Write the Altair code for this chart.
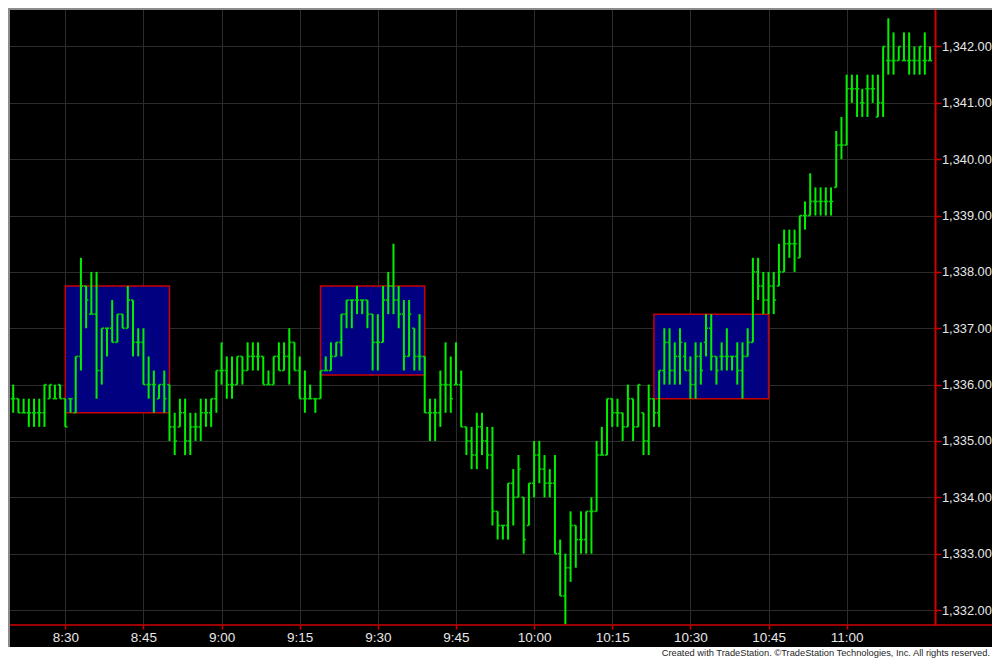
import altair as alt
import pandas as pd

# ---------------- data (1-minute bars, 8:18 .. 11:16) ----------------
first_minute = 8 * 60 + 18  # 8:18
highs = [
    1335.75, 1336.00, 1336.00, 1335.75, 1335.75, 1335.75, 1335.75, 1335.75, 1336.00, 1336.00, 1336.00, 1336.00,
    1335.75, 1335.75, 1336.50, 1338.25, 1337.75, 1338.00, 1338.00, 1337.00, 1337.00, 1337.50, 1337.25, 1337.25,
    1337.75, 1337.50, 1337.00, 1337.00, 1336.50, 1336.25, 1336.00, 1336.25, 1336.00, 1335.50, 1335.75, 1335.75,
    1335.50, 1335.50, 1335.75, 1335.75, 1335.75, 1336.25, 1336.75, 1336.50, 1336.50, 1336.50, 1336.50, 1336.75,
    1336.75, 1336.75, 1336.50, 1336.25, 1336.50, 1336.75, 1336.75, 1337.00, 1336.75, 1336.50, 1336.25, 1336.00,
    1335.75, 1336.25, 1336.50, 1336.75, 1336.75, 1337.25, 1337.50, 1337.50, 1337.75, 1337.50, 1337.50, 1337.25,
    1337.25, 1337.75, 1338.00, 1338.50, 1337.75, 1337.50, 1337.50, 1337.00, 1337.25, 1336.50, 1335.75, 1335.75,
    1336.25, 1336.75, 1336.50, 1336.75, 1336.25, 1335.25, 1335.25, 1335.50, 1335.50, 1335.25, 1335.25, 1333.75,
    1333.50, 1334.25, 1334.50, 1334.75, 1334.00, 1334.25, 1335.00, 1335.00, 1334.75, 1334.50, 1334.75, 1333.25,
    1333.00, 1333.75, 1333.50, 1333.75, 1333.75, 1334.00, 1335.00, 1335.25, 1335.75, 1335.75, 1335.75, 1335.50,
    1336.00, 1335.75, 1336.00, 1335.50, 1336.00, 1335.75, 1336.25, 1337.00, 1337.00, 1336.75, 1337.00, 1336.75,
    1336.50, 1336.75, 1336.75, 1337.25, 1337.25, 1336.50, 1336.75, 1337.00, 1336.50, 1336.75, 1336.75, 1337.00,
    1338.25, 1338.25, 1338.00, 1338.00, 1338.00, 1338.50, 1338.75, 1338.75, 1338.75, 1339.00, 1339.25, 1339.75,
    1339.50, 1339.50, 1339.50, 1339.50, 1340.50, 1340.75, 1341.50, 1341.50, 1341.50, 1341.25, 1341.50, 1341.50,
    1341.50, 1342.00, 1342.50, 1342.25, 1342.00, 1342.25, 1342.25, 1342.00, 1342.00, 1342.25, 1342.00,
]
lows = [
    1335.25, 1335.50, 1335.50, 1335.50, 1335.50, 1335.25, 1335.25, 1335.25, 1335.25, 1335.75, 1335.75, 1335.75,
    1335.25, 1335.50, 1335.50, 1336.25, 1337.00, 1337.25, 1335.75, 1336.00, 1336.50, 1336.75, 1336.75, 1337.00,
    1337.00, 1336.50, 1336.50, 1336.00, 1335.75, 1335.50, 1335.75, 1335.50, 1335.00, 1334.75, 1335.25, 1334.75,
    1334.75, 1335.00, 1335.00, 1335.25, 1335.25, 1335.50, 1336.00, 1335.75, 1335.75, 1336.00, 1336.00, 1336.25,
    1336.25, 1336.25, 1336.00, 1336.00, 1336.00, 1336.25, 1336.25, 1336.00, 1336.25, 1335.75, 1335.50, 1335.75,
    1335.50, 1335.75, 1336.25, 1336.25, 1336.50, 1336.50, 1337.00, 1337.00, 1337.25, 1337.25, 1337.00, 1336.25,
    1336.25, 1336.75, 1337.25, 1337.25, 1337.00, 1336.25, 1336.50, 1336.25, 1336.25, 1335.50, 1335.00, 1335.00,
    1335.25, 1335.50, 1335.50, 1336.00, 1335.25, 1334.75, 1334.50, 1334.50, 1334.75, 1334.50, 1333.50, 1333.25,
    1333.25, 1333.25, 1333.50, 1334.00, 1333.00, 1333.50, 1334.00, 1334.25, 1334.00, 1334.00, 1333.00, 1332.25,
    1331.75, 1332.50, 1332.75, 1333.00, 1333.00, 1333.00, 1333.75, 1334.75, 1334.75, 1335.25, 1335.25, 1335.00,
    1335.25, 1335.00, 1335.25, 1334.75, 1334.75, 1335.25, 1335.25, 1336.00, 1336.00, 1336.00, 1336.00, 1336.25,
    1335.75, 1335.75, 1336.00, 1336.50, 1336.25, 1336.00, 1336.25, 1336.25, 1336.25, 1336.00, 1335.75, 1336.50,
    1336.75, 1337.50, 1337.25, 1337.25, 1337.25, 1337.75, 1338.00, 1338.25, 1338.00, 1338.25, 1338.75, 1339.00,
    1339.00, 1339.00, 1339.00, 1339.00, 1339.50, 1340.00, 1340.25, 1341.00, 1340.75, 1340.75, 1340.75, 1341.00,
    1340.75, 1340.75, 1341.50, 1341.50, 1341.75, 1341.75, 1341.50, 1341.50, 1341.50, 1341.50, 1341.75,
]
opens = [
    1335.50, 1335.75, 1335.75, 1335.75, 1335.50, 1335.50, 1335.50, 1335.50, 1335.50, 1335.75, 1335.75, 1336.00,
    1335.75, 1335.75, 1335.50, 1336.50, 1337.75, 1337.25, 1337.25, 1336.25, 1337.00, 1337.00, 1336.75, 1337.25,
    1337.00, 1337.50, 1336.75, 1336.75, 1336.00, 1336.00, 1335.75, 1336.00, 1336.00, 1335.25, 1335.25, 1335.50,
    1335.00, 1335.25, 1335.25, 1335.50, 1335.50, 1335.75, 1336.25, 1336.25, 1336.00, 1336.00, 1336.50, 1336.25,
    1336.50, 1336.50, 1336.50, 1336.00, 1336.00, 1336.50, 1336.25, 1336.50, 1336.75, 1336.25, 1335.75, 1335.75,
    1335.75, 1335.75, 1336.25, 1336.25, 1336.50, 1336.75, 1337.25, 1337.50, 1337.50, 1337.50, 1337.50, 1337.25,
    1336.75, 1336.75, 1337.50, 1337.75, 1337.50, 1337.25, 1336.50, 1337.00, 1336.50, 1336.50, 1335.50, 1335.50,
    1335.50, 1336.00, 1336.00, 1336.00, 1336.00, 1335.25, 1335.00, 1334.75, 1335.25, 1335.00, 1334.75, 1333.75,
    1333.50, 1333.50, 1334.25, 1334.00, 1334.00, 1333.50, 1334.25, 1334.75, 1334.50, 1334.25, 1334.25, 1333.00,
    1332.25, 1332.75, 1333.50, 1333.25, 1333.25, 1333.75, 1333.75, 1334.75, 1334.75, 1335.75, 1335.50, 1335.50,
    1335.25, 1335.75, 1335.25, 1335.50, 1335.00, 1335.75, 1335.50, 1336.25, 1336.75, 1336.25, 1336.50, 1336.50,
    1336.25, 1336.00, 1336.50, 1336.75, 1337.00, 1336.50, 1336.50, 1336.50, 1336.50, 1336.50, 1336.25, 1336.50,
    1336.75, 1338.00, 1337.75, 1337.50, 1337.75, 1337.75, 1338.00, 1338.50, 1338.50, 1338.25, 1339.00, 1339.00,
    1339.25, 1339.25, 1339.25, 1339.25, 1339.50, 1340.25, 1340.25, 1341.25, 1341.25, 1341.00, 1341.25, 1341.25,
    1340.75, 1341.00, 1341.75, 1341.75, 1341.75, 1341.75, 1341.75, 1341.75, 1341.75, 1341.75, 1341.75,
]
closes = [
    1335.75, 1335.75, 1335.75, 1335.50, 1335.50, 1335.50, 1335.50, 1335.50, 1336.00, 1336.00, 1335.75, 1335.75,
    1335.25, 1335.75, 1336.50, 1337.75, 1337.50, 1337.25, 1336.25, 1337.00, 1337.00, 1336.75, 1337.25, 1337.00,
    1337.50, 1336.75, 1336.75, 1336.00, 1336.00, 1336.00, 1336.00, 1335.75, 1335.25, 1335.00, 1335.50, 1335.00,
    1335.25, 1335.25, 1335.50, 1335.50, 1335.75, 1336.25, 1336.25, 1336.00, 1336.00, 1336.50, 1336.25, 1336.50,
    1336.50, 1336.50, 1336.00, 1336.00, 1336.50, 1336.25, 1336.50, 1336.75, 1336.25, 1335.75, 1335.75, 1335.75,
    1335.75, 1336.25, 1336.25, 1336.50, 1336.75, 1337.25, 1337.50, 1337.50, 1337.50, 1337.50, 1337.25, 1336.75,
    1336.75, 1337.50, 1337.75, 1337.50, 1337.25, 1336.50, 1337.25, 1336.50, 1336.50, 1335.50, 1335.50, 1335.50,
    1336.00, 1336.00, 1335.75, 1336.00, 1335.25, 1335.00, 1334.75, 1335.25, 1335.00, 1334.75, 1333.75, 1333.50,
    1333.50, 1334.25, 1334.00, 1334.50, 1333.25, 1334.25, 1334.75, 1334.50, 1334.25, 1334.25, 1333.00, 1332.25,
    1332.75, 1333.50, 1333.25, 1333.25, 1333.75, 1333.75, 1334.75, 1334.75, 1335.75, 1335.50, 1335.50, 1335.25,
    1335.75, 1335.25, 1336.00, 1335.00, 1335.75, 1335.50, 1336.25, 1336.75, 1336.25, 1336.50, 1336.75, 1336.25,
    1336.00, 1336.50, 1336.25, 1337.00, 1336.50, 1336.25, 1336.50, 1336.50, 1336.50, 1336.25, 1336.50, 1336.75,
    1338.00, 1337.75, 1337.50, 1337.75, 1337.50, 1338.00, 1338.50, 1338.50, 1338.50, 1339.00, 1339.00, 1339.25,
    1339.25, 1339.25, 1339.25, 1339.25, 1340.25, 1340.25, 1341.25, 1341.25, 1341.25, 1341.00, 1341.25, 1341.25,
    1341.00, 1342.00, 1341.75, 1341.75, 1342.00, 1341.75, 1341.75, 1341.75, 1342.00, 1341.75, 1341.75,
]
minutes = list(range(first_minute, first_minute + len(highs)))

# highlighted ranges (minutes since midnight / prices)
box_start = [510, 559, 623]      # 8:30, 9:19, 10:23
box_end = [530, 579, 645]        # 8:50, 9:39, 10:45
box_top = [1337.75, 1337.75, 1337.25]
box_bottom = [1335.50, 1336.17, 1335.75]

price_ticks = [1332, 1333, 1334, 1335, 1336, 1337, 1338, 1339, 1340, 1341, 1342]
time_ticks = [510, 525, 540, 555, 570, 585, 600, 615, 630, 645, 660]
credit = "Created with TradeStation. \u00a9TradeStation Technologies, Inc. All rights reserved."

# ---------------- styling ----------------
GREEN = "#00f000"
TICK_GREEN = "#00d800"
RED = "#d00000"
GRID = "#2c2c2c"
LBL = "#e6e6e6"
FONT = "Liberation Sans"
W, H = 927, 617
TOTAL_W = 984

bars = pd.DataFrame({"t": minutes, "o": opens, "h": highs, "l": lows, "c": closes})
boxes = pd.DataFrame({"x0": box_start, "x1": box_end, "y0": box_bottom, "y1": box_top})
one = pd.DataFrame({"label": [credit]})

xs = alt.Scale(domain=[499.0, 676.96], nice=False, zero=False)
ys = alt.Scale(domain=[1331.734, 1342.683], nice=False, zero=False)

label_expr = ("floor(datum.value / 60) + ':' + (datum.value % 60 < 10 ? '0' : '') + (datum.value % 60)")
xax = alt.Axis(values=time_ticks, labelExpr=label_expr, title=None, grid=True, gridColor=GRID,
               gridWidth=1, domain=False, ticks=True, tickColor=RED, tickSize=4, tickWidth=1.5,
               labelColor=LBL, labelFont=FONT, labelFontSize=13.5, labelPadding=1,
               labelFlush=False, labelOverlap=False)
yax = alt.Axis(orient="right", values=price_ticks, format=",.2f", title=None, grid=True,
               gridColor=GRID, gridWidth=1, domain=True, domainColor=RED, domainWidth=2,
               tickColor=RED, tickSize=6, tickWidth=1.5, labelColor=LBL, labelFont=FONT,
               labelFontSize=12.8, labelPadding=0.5, labelFlush=False, labelOverlap=False)


def X(f):
    return alt.X(f, type="quantitative", scale=xs, axis=xax)


def Y(f):
    return alt.Y(f, type="quantitative", scale=ys, axis=yax)


box_layer = alt.Chart(boxes).mark_rect(fill="#000080", stroke="#c80000", strokeWidth=1.5).encode(
    x=X("x0"), x2="x1", y=Y("y0"), y2="y1")

range_layer = alt.Chart(bars).mark_rule(color=GREEN, strokeWidth=2).encode(
    x=X("t"), y=Y("l"), y2="h")
open_layer = alt.Chart(bars).mark_rule(color=TICK_GREEN, strokeWidth=1.6, xOffset=-2.2).encode(
    x=X("t"), x2="t", y=Y("o"))
close_layer = alt.Chart(bars).mark_rule(color=TICK_GREEN, strokeWidth=1.6, x2Offset=2.2).encode(
    x=X("t"), x2="t", y=Y("c"))

strip = alt.Chart(one).mark_rect(color="white").encode(
    x=alt.value(0), x2=alt.value(TOTAL_W), y=alt.value(639), y2=alt.value(651))
bottom_line = alt.Chart(one).mark_rule(color=RED, strokeWidth=1.5).encode(
    x=alt.value(0), x2=alt.value(TOTAL_W), y=alt.value(H))
left_border = alt.Chart(one).mark_rule(color="#8c8c8c", strokeWidth=2).encode(
    x=alt.value(1), y=alt.value(0), y2=alt.value(639))
top_border = alt.Chart(one).mark_rule(color="#8c8c8c", strokeWidth=2).encode(
    x=alt.value(0), x2=alt.value(TOTAL_W), y=alt.value(1))
credit_text = alt.Chart(one).mark_text(align="right", baseline="alphabetic", fontSize=9.3,
                                        font=FONT, color="#1e1e1e").encode(
    x=alt.value(TOTAL_W - 2), y=alt.value(648), text="label:N")

chart = alt.layer(box_layer, range_layer, open_layer, close_layer, strip, bottom_line,
                  left_border, top_border, credit_text).properties(
    width=W, height=H,
    autosize=alt.AutoSizeParams(type="none"),
    padding={"left": 0, "top": 0, "right": TOTAL_W - W, "bottom": 34},
    background="black",
).configure_view(stroke=None)

chart.save("out.html", embed_options={"renderer": "svg", "actions": False})
